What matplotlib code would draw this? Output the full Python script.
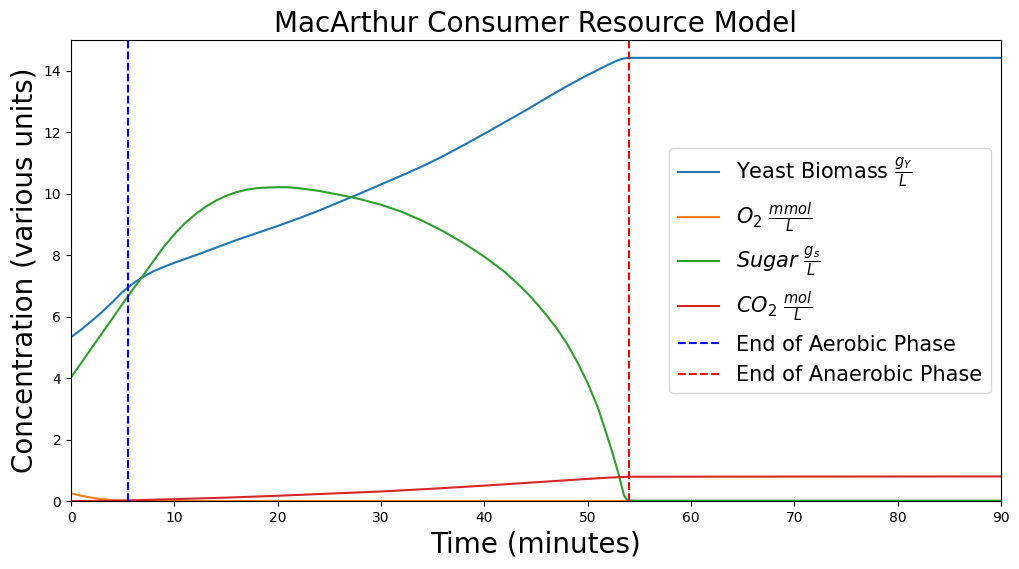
import matplotlib
matplotlib.use('Agg')
import matplotlib.pyplot as plt
import numpy as np

# values
t_yeast = [0, 1, 2, 3, 4, 5, 6, 7, 8, 9, 10, 12, 14, 16, 18, 20, 22, 24, 26, 28, 30,
           32, 34, 36, 38, 40, 42, 44, 46, 48, 50, 52, 53, 53.5, 54, 90]
yeast = [5.33, 5.58, 5.86, 6.15, 6.47, 6.81, 7.08, 7.30, 7.48, 7.62, 7.75, 7.99, 8.24,
         8.49, 8.72, 8.95, 9.19, 9.45, 9.73, 10.01, 10.30, 10.59, 10.89, 11.22, 11.58,
         11.95, 12.33, 12.71, 13.11, 13.50, 13.86, 14.20, 14.35, 14.40, 14.42, 14.42]

t_o2 = [0, 0.5, 1, 1.5, 2, 2.5, 3, 3.5, 4, 4.5, 5, 5.5, 90]
o2 = [0.25, 0.21, 0.17, 0.14, 0.11, 0.08, 0.06, 0.045, 0.03, 0.02, 0.01, 0.0, 0.0]

t_sugar = [0, 1, 2, 3, 4, 5, 6, 7, 8, 9, 10, 11, 12, 13, 14, 15, 16, 17, 18, 19, 20,
           21, 22, 24, 26, 28, 30, 32, 34, 36, 38, 40, 42, 44, 45, 46, 47, 48, 49, 50,
           51, 52, 52.5, 53, 53.5, 53.75, 54, 55, 90]
sugar = [4.02, 4.50, 4.98, 5.46, 5.94, 6.42, 6.89, 7.35, 7.82, 8.28, 8.68, 9.03, 9.32,
         9.57, 9.77, 9.93, 10.05, 10.13, 10.18, 10.20, 10.21, 10.21, 10.18, 10.09, 9.96,
         9.82, 9.64, 9.41, 9.12, 8.78, 8.39, 7.95, 7.45, 6.82, 6.45, 6.05, 5.62, 5.12,
         4.52, 3.84, 3.03, 2.00, 1.45, 0.87, 0.20, 0.06, 0.02, 0.01, 0.01]

t_co2 = [0, 2, 5.5, 10, 15, 20, 25, 30, 35, 40, 45, 50, 52, 54, 90]
co2 = [0.0, 0.0, 0.02, 0.06, 0.11, 0.17, 0.24, 0.31, 0.40, 0.50, 0.61, 0.72, 0.76, 0.79, 0.80]

t_aerobic = 5.5
t_anaerobic = 54

fig = plt.figure(figsize=(10.19, 5.69), dpi=100)
ax = fig.add_axes([0.0697, 0.1195, 0.9126, 0.8102])

ax.plot(t_yeast, yeast, label=r'Yeast Biomass $\frac{g_Y}{L}$')
ax.plot(t_o2, o2, label=r'$O_2$ $\frac{mmol}{L}$')
ax.plot(t_sugar, sugar, label=r'$Sugar$ $\frac{g_s}{L}$')
ax.plot(t_co2, co2, label=r'$CO_2$ $\frac{mol}{L}$')
ax.axvline(t_aerobic, color='b', linestyle='--', label='End of Aerobic Phase')
ax.axvline(t_anaerobic, color='r', linestyle='--', label='End of Anaerobic Phase')

ax.set_xlim(0, 90)
ax.set_ylim(0, 15)
ax.set_title('MacArthur Consumer Resource Model', fontsize=20)
ax.set_xlabel('Time (minutes)', fontsize=20)
ax.set_ylabel('Concentration (various units)', fontsize=20)
ax.legend(loc='center right', fontsize=15)

fig.savefig('out.png', dpi=100)
